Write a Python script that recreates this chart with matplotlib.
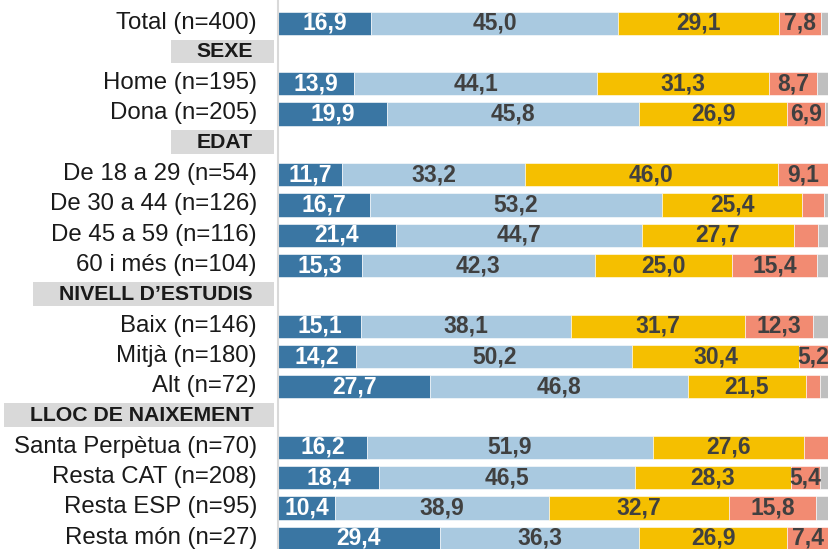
import matplotlib
matplotlib.use('Agg')
import matplotlib.pyplot as plt
from matplotlib.patches import Rectangle
from matplotlib.transforms import blended_transform_factory

plt.rcParams['font.family'] = ['Liberation Sans', 'DejaVu Sans']

# rows from top to bottom; None marks a group header
row_labels = ['Total (n=400)', 'SEXE', 'Home (n=195)', 'Dona (n=205)', 'EDAT',
              'De 18 a 29 (n=54)', 'De 30 a 44 (n=126)', 'De 45 a 59 (n=116)',
              '60 i més (n=104)', 'NIVELL D’ESTUDIS', 'Baix (n=146)',
              'Mitjà (n=180)', 'Alt (n=72)', 'LLOC DE NAIXEMENT',
              'Santa Perpètua (n=70)', 'Resta CAT (n=208)', 'Resta ESP (n=95)',
              'Resta món (n=27)']
is_header = [False, True, False, False, True, False, False, False, False,
             True, False, False, False, True, False, False, False, False]

s1 = [16.9, None, 13.9, 19.9, None, 11.7, 16.7, 21.4, 15.3, None, 15.1, 14.2, 27.7, None, 16.2, 18.4, 10.4, 29.4]
s2 = [45.0, None, 44.1, 45.8, None, 33.2, 53.2, 44.7, 42.3, None, 38.1, 50.2, 46.8, None, 51.9, 46.5, 38.9, 36.3]
s3 = [29.1, None, 31.3, 26.9, None, 46.0, 25.4, 27.7, 25.0, None, 31.7, 30.4, 21.5, None, 27.6, 28.3, 32.7, 26.9]
s4 = [7.8, None, 8.7, 6.9, None, 9.1, 3.9, 4.4, 15.4, None, 12.3, 5.2, 2.6, None, 4.3, 5.4, 15.8, 7.4]
s5 = [1.2, None, 2.0, 0.5, None, 0.0, 0.8, 1.8, 2.0, None, 2.8, 0.0, 1.4, None, 0.0, 1.4, 2.2, 0.0]

series = [s1, s2, s3, s4, s5]
colors = ['#3a76a3', '#a9c9e0', '#f5bf00', '#f28b72', '#bfbfbf']
text_colors = ['white', '#404040', '#404040', '#404040', None]

W, H = 833, 549
fig = plt.figure(figsize=(W / 100, H / 100), dpi=100)
pitch = 30.3
top = 23.2
ax = fig.add_axes([278 / W, 0, 550 / W, 1])
ax.set_xlim(0, 100)
ax.set_ylim((H - top) / pitch, -top / pitch)

for i in range(len(row_labels)):
    if is_header[i]:
        continue
    left = 0
    for k, s in enumerate(series):
        v = s[i]
        ax.barh(i, v, left=left, height=0.77, color=colors[k],
                edgecolor='white', linewidth=0.4)
        if text_colors[k] and v >= 5:
            ax.text(left + v / 2, i, f'{v:.1f}'.replace('.', ','),
                    ha='center', va='center', fontsize=16.5, fontweight='bold',
                    color=text_colors[k], clip_on=False)
        left += v

for sp in ['top', 'right', 'bottom']:
    ax.spines[sp].set_visible(False)
ax.spines['left'].set_color('#d9d9d9')
ax.spines['left'].set_linewidth(1.5)
ax.set_xticks([])
ax.set_yticks([])

tr = blended_transform_factory(fig.transFigure, ax.transData)
headers = []
for i, lab in enumerate(row_labels):
    if is_header[i]:
        t = ax.text(253 / W, i - 0.05, lab, transform=tr, ha='right', va='center',
                    fontsize=15.3, fontweight='bold', color='#1a1a1a', zorder=5)
        headers.append((i, t))
    else:
        ax.text(257 / W, i - 0.02, lab, transform=tr, ha='right', va='center',
                fontsize=17.3, color='#1a1a1a')

fig.canvas.draw()
r = fig.canvas.get_renderer()
for i, t in headers:
    bb = t.get_window_extent(renderer=r)
    x0 = (bb.x0 - 26) / W
    ax.add_patch(Rectangle((x0, i - 0.46), 274 / W - x0, 0.78, transform=tr,
                           facecolor='#d9d9d9', edgecolor='none', clip_on=False,
                           zorder=1))

fig.savefig('out.png', dpi=100)
